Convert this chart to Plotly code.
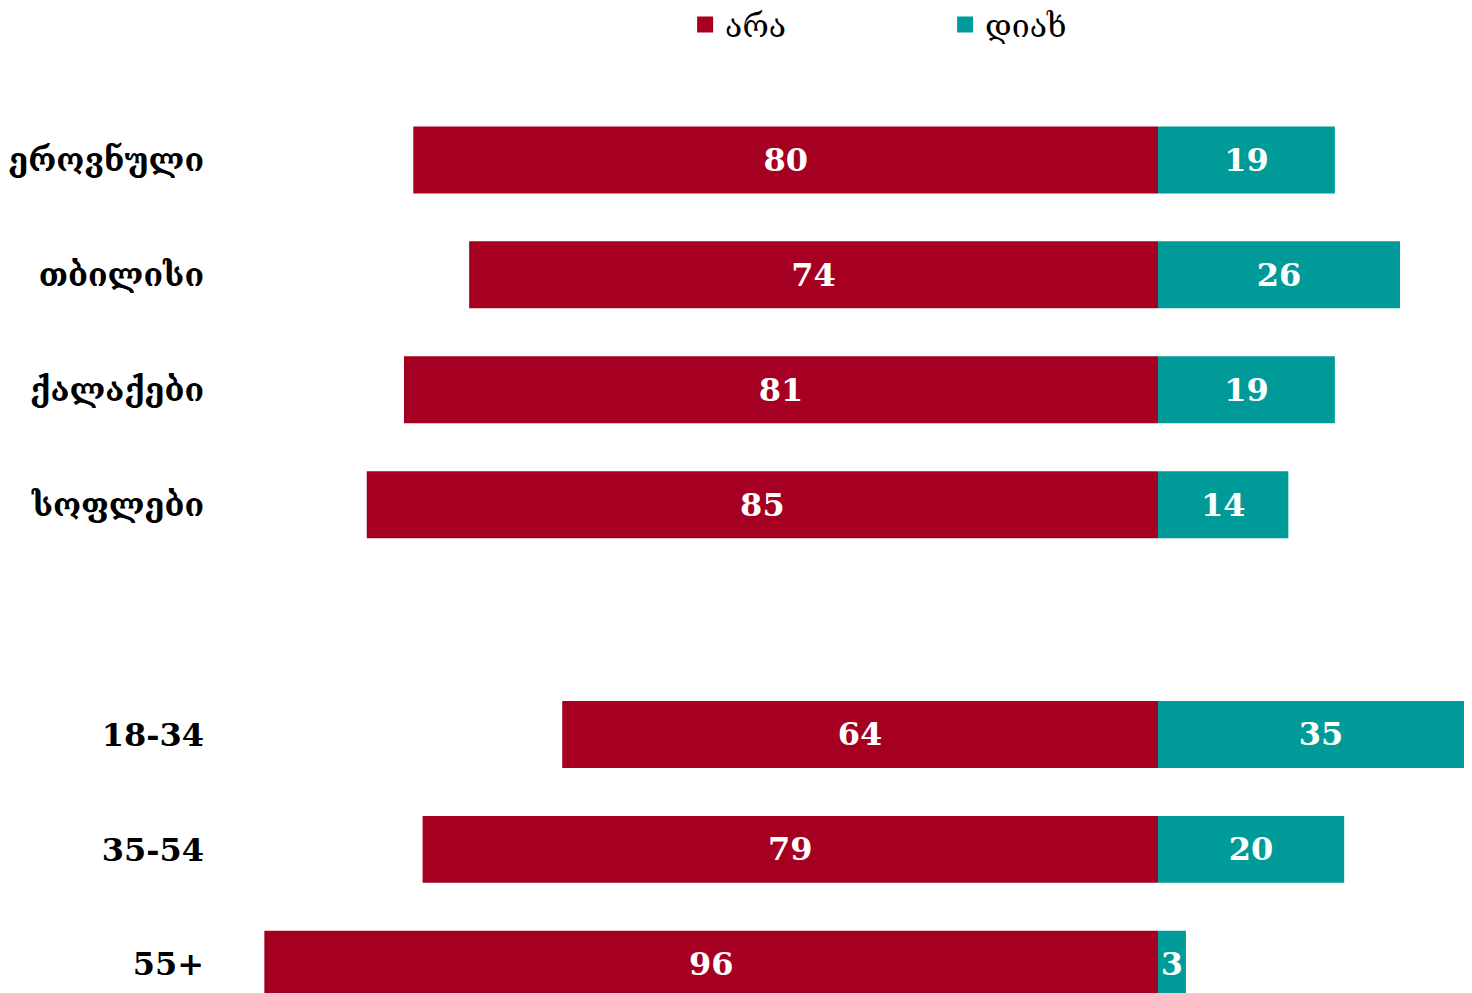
import plotly.graph_objects as go

categories = ["ეროვნული", "თბილისი", "ქალაქები", "სოფლები", "18-34", "35-54", "55+"]
axis_order = ["ეროვნული", "თბილისი", "ქალაქები", "სოფლები", " ", "18-34", "35-54", "55+"]
no_values = [80, 74, 81, 85, 64, 79, 96]
yes_values = [19, 26, 19, 14, 35, 20, 3]
series_names = ["არა", "დიახ"]

RED = "#A50021"
TEAL = "#009B98"
FONT = "DejaVu Serif"

fig = go.Figure()
fig.add_trace(go.Bar(
    y=categories, x=[-v for v in no_values], orientation="h", name=series_names[0],
    marker=dict(color=RED, line=dict(width=0)), showlegend=False,
    text=[str(v) for v in no_values], textposition="inside", insidetextanchor="middle",
    textfont=dict(color="white", size=32, family=FONT, weight="bold"),
    hoverinfo="skip",
))
fig.add_trace(go.Bar(
    y=categories, x=yes_values, orientation="h", name=series_names[1],
    marker=dict(color=TEAL, line=dict(width=0)), showlegend=False,
    text=[str(v) for v in yes_values], textposition="inside", insidetextanchor="middle",
    textfont=dict(color="white", size=32, family=FONT, weight="bold"),
    hoverinfo="skip",
))
# legend entries with larger square swatches
for name, color in zip(series_names, [RED, TEAL]):
    fig.add_trace(go.Scatter(
        x=[None], y=[None], mode="markers", name=name,
        marker=dict(symbol="square", size=17, color=color), hoverinfo="skip",
    ))

fig.update_layout(
    width=1464, height=985,
    margin=dict(l=207, r=0, t=52, b=0),
    paper_bgcolor="white", plot_bgcolor="white",
    barmode="relative", bargap=0.417,
    font=dict(family=FONT, color="black"),
    showlegend=True,
    legend=dict(orientation="h", x=0.374, xanchor="left", y=0.983, yref="container", yanchor="middle",
                entrywidth=215, font=dict(size=32, family=FONT), traceorder="normal"),
    xaxis=dict(range=[-101.3, 33.73], visible=False, showgrid=False, zeroline=False),
    yaxis=dict(type="category", categoryorder="array", categoryarray=axis_order,
               range=[7.25, -0.87], showgrid=False, zeroline=False, showline=False,
               ticks="", tickfont=dict(size=32, family=FONT, color="black", weight="bold"),
               ticklabelstandoff=10),
)

fig.write_html("out.html")
